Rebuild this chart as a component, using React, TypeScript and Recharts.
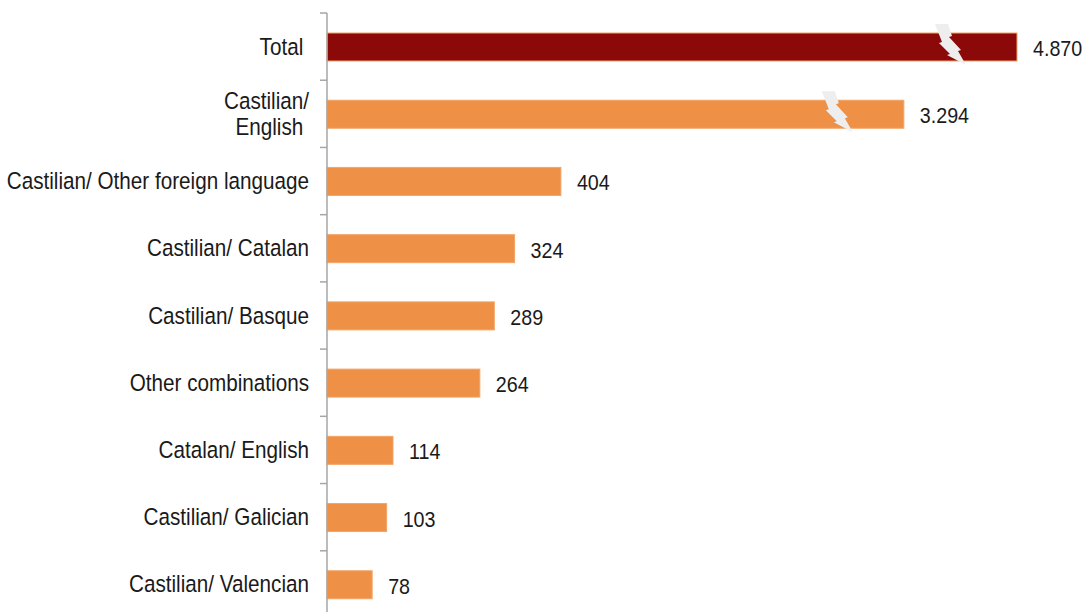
import React from 'react';
import { BarChart, Bar, XAxis, YAxis, Cell, LabelList } from 'recharts';

const categories = [
  'Total ',
  'Castilian/\nEnglish ',
  'Castilian/ Other foreign language',
  'Castilian/ Catalan',
  'Castilian/ Basque',
  'Other combinations',
  'Catalan/ English',
  'Castilian/ Galician',
  'Castilian/ Valencian',
];
const students = [4870, 3294, 404, 324, 289, 264, 114, 103, 78];

// axis is broken: values above BREAK_VALUE are squeezed into the last part of the axis
const BREAK_VALUE = 671;
const BREAK_SHARE = 0.563;

// Arial Narrow look: Liberation Sans squeezed horizontally
const FONT = '"Liberation Sans", Arial, sans-serif';
const DARK_RED = '#8B0909';
const ORANGE = '#EE9146';

const data = categories.map((name, i) => ({ name, value: students[i] }));

function brokenScale(): any {
  let dom: number[] = [0, 1];
  let rng: number[] = [0, 1];
  const s: any = (v: number) => {
    const max = dom[1];
    const frac =
      v <= BREAK_VALUE
        ? (v / BREAK_VALUE) * BREAK_SHARE
        : BREAK_SHARE + ((v - BREAK_VALUE) / (max - BREAK_VALUE)) * (1 - BREAK_SHARE);
    return rng[0] + frac * (rng[1] - rng[0]);
  };
  s.domain = (d?: number[]) => {
    if (d === undefined) return dom.slice();
    dom = d.map(Number);
    return s;
  };
  s.range = (r?: number[]) => {
    if (r === undefined) return rng.slice();
    rng = r.slice();
    return s;
  };
  s.ticks = () => dom.slice();
  s.copy = () => brokenScale().domain(dom).range(rng);
  return s;
}

const fmt = (v: number) => String(v).replace(/\B(?=(\d{3})+(?!\d))/g, '.');

const NarrowText = ({ x, y, anchor, size, squeeze, children }: any) => (
  <text
    transform={`translate(${x},${y}) scale(${squeeze},1)`}
    textAnchor={anchor}
    fontFamily={FONT}
    fontSize={size}
    fill="#1a1a1a"
    style={{ whiteSpace: 'pre' }}
  >
    {children}
  </text>
);

const CategoryTick = (props: any) => {
  const { x, y, payload } = props;
  const lines = String(payload.value).split('\n');
  const lineH = 26;
  const top = y - payload.offset;
  const first = y + 8 - ((lines.length - 1) * lineH) / 2;
  return (
    <g>
      <line x1={320} x2={327} y1={top} y2={top} stroke="#A6A6A6" strokeWidth={1.5} />
      {lines.map((l, i) => (
        <NarrowText key={i} x={x - 10} y={first + i * lineH} anchor="end" size={23.5} squeeze={0.88}>
          {l}
        </NarrowText>
      ))}
    </g>
  );
};

const BarShape = (props: any) => {
  const { x, y, width, height, fill, value } = props;
  const broken = value > BREAK_VALUE;
  const cx = x + width - 66;
  const cy = y + height / 2;
  const bolt = [
    [-16, -23], [-3, -23], [1, -11], [-2, -10], [10, 3], [7, 4],
    [15, 18], [-4, 8], [-1, 7], [-12, -4], [-9, -5],
  ]
    .map(([dx, dy]) => `${cx + dx},${cy + dy}`)
    .join(' ');
  return (
    <g>
      <rect x={x} y={y} width={width} height={height} fill={fill} stroke="#F3A466" strokeWidth={1} />
      {broken && <polygon points={bolt} fill="#EEEEEE" />}
    </g>
  );
};

const ValueLabel = (props: any) => {
  const { x, y, width, height, value } = props;
  return (
    <NarrowText x={x + width + 16} y={y + height / 2 + 9} anchor="start" size={22.5} squeeze={0.875}>
      {fmt(value)}
    </NarrowText>
  );
};

export default function App() {
  return (
    <div style={{ position: 'absolute', left: 0, top: 0, background: '#fff' }}>
      <BarChart
        width={1087}
        height={620}
        data={data}
        layout="vertical"
        margin={{ top: 13, right: 70, bottom: 2, left: 0 }}
      >
        <XAxis type="number" hide scale={brokenScale()} domain={[0, 'dataMax']} />
        <YAxis
          type="category"
          dataKey="name"
          width={327}
          axisLine={{ stroke: '#A6A6A6', strokeWidth: 1.5 }}
          tickLine={false}
          tick={<CategoryTick />}
          interval={0}
        />
        <Bar dataKey="value" barSize={28} shape={<BarShape />} isAnimationActive={false}>
          {data.map((d) => (
            <Cell key={d.name} fill={d.name.trim() === 'Total' ? DARK_RED : ORANGE} />
          ))}
          <LabelList dataKey="value" content={<ValueLabel />} />
        </Bar>
      </BarChart>
    </div>
  );
}
